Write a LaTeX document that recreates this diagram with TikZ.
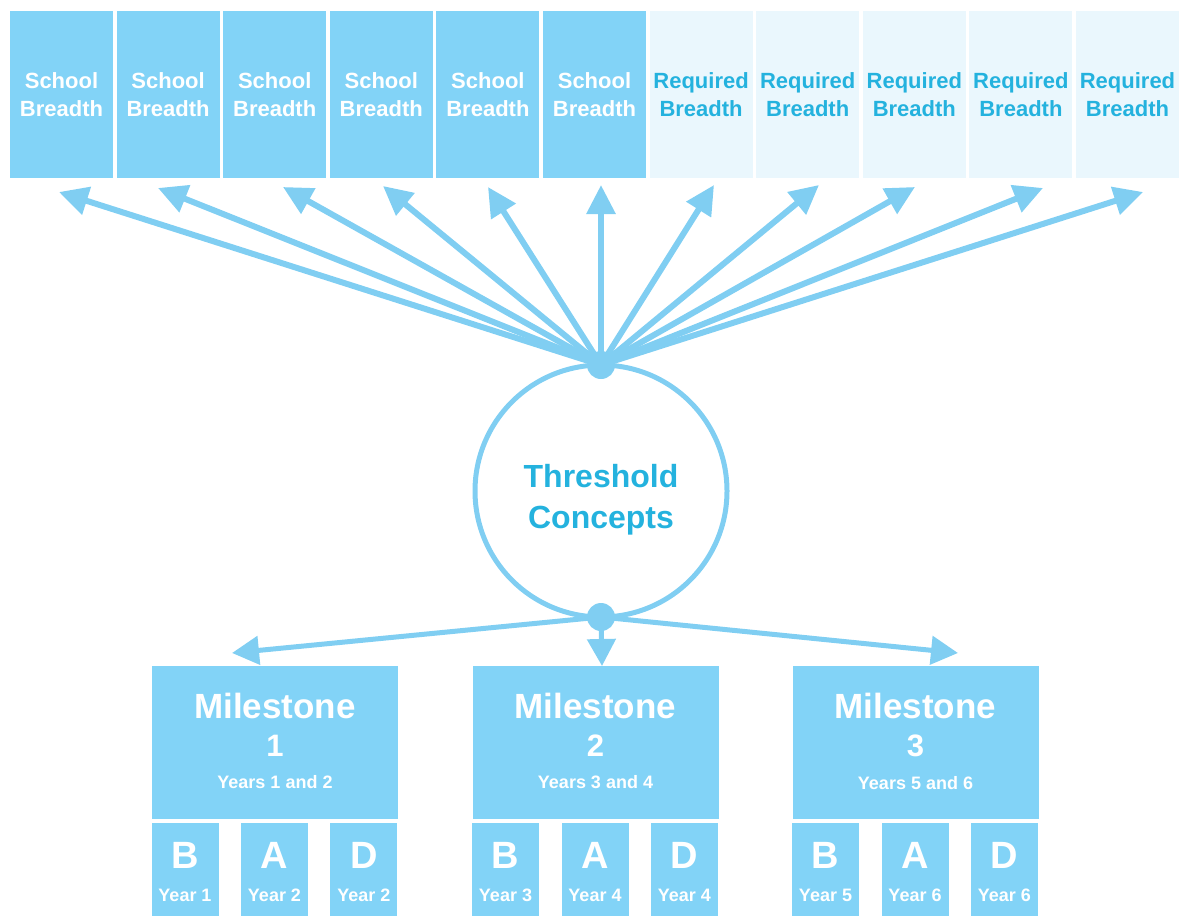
\documentclass[tikz,border=0pt]{standalone}
\usepackage{fontspec}
\setmainfont{Liberation Sans}
\usetikzlibrary{arrows.meta}

\definecolor{boxblue}{RGB}{130,211,247}
\definecolor{paleblue}{RGB}{234,247,253}
\definecolor{textcyan}{RGB}{36,178,222}
\definecolor{linkblue}{RGB}{128,206,242}

\begin{document}
\begin{tikzpicture}[x=1pt, y=-1pt,
	school/.style={fill=boxblue, minimum width=103pt, minimum height=167pt, inner sep=0pt, text=white, align=center, font=\bfseries\fontsize{22}{28}\selectfont},
	required/.style={school, fill=paleblue, text=textcyan},
	link/.style={draw=linkblue, line width=6pt, -{Triangle[length=29pt,width=28pt]}},
	hub/.style={circle, fill=linkblue, minimum size=28pt, inner sep=0pt},
	milestone/.style={fill=boxblue, minimum width=246pt, minimum height=153pt, inner sep=0pt},
	yearbox/.style={fill=boxblue, minimum width=67pt, minimum height=93pt, inner sep=0pt},
	bigtxt/.style={text=white, inner sep=0pt, font=\bfseries\fontsize{35}{40}\selectfont},
	numtxt/.style={text=white, inner sep=0pt, font=\bfseries\fontsize{31}{36}\selectfont},
	lettxt/.style={text=white, inner sep=0pt, font=\bfseries\fontsize{38}{42}\selectfont},
	smalltxt/.style={text=white, inner sep=0pt, font=\bfseries\fontsize{18}{22}\selectfont}]
	\useasboundingbox (0,0) rectangle (1180,916);
	
	% top row
	\node[school] (s1) at (61.5,94.5) {School\\Breadth};
	\node[school] (s2) at (168.1,94.5) {School\\Breadth};
	\node[school] (s3) at (274.7,94.5) {School\\Breadth};
	\node[school] (s4) at (381.3,94.5) {School\\Breadth};
	\node[school] (s5) at (487.9,94.5) {School\\Breadth};
	\node[school] (s6) at (594.5,94.5) {School\\Breadth};
	\node[required] (r1) at (701.1,94.5) {Required\\Breadth};
	\node[required] (r2) at (807.7,94.5) {Required\\Breadth};
	\node[required] (r3) at (914.3,94.5) {Required\\Breadth};
	\node[required] (r4) at (1020.9,94.5) {Required\\Breadth};
	\node[required] (r5) at (1127.5,94.5) {Required\\Breadth};
	
	% threshold circle
	\node[circle, draw=linkblue, line width=5pt, minimum size=252pt] (tc) at (601,491) {};
	\node[text=textcyan, align=center, font=\bfseries\fontsize{32}{41}\selectfont] (tct) at (601,500) {Threshold\\Concepts};
	\node[hub] (top) at (601,365) {};
	\node[hub] (bot) at (601,617) {};
	
	% arrow ends
	\coordinate (t1) at (59,192);
	\coordinate (t2) at (158,188);
	\coordinate (t3) at (283,187);
	\coordinate (t4) at (383,186);
	\coordinate (t5) at (488,187);
	\coordinate (t6) at (601,185);
	\coordinate (t7) at (714,185);
	\coordinate (t8) at (819,185);
	\coordinate (t9) at (915,187);
	\coordinate (t10) at (1043,188);
	\coordinate (t11) at (1143,192);
	
	\draw[link] (top.center) -- (t1);
	\draw[link] (top.center) -- (t2);
	\draw[link] (top.center) -- (t3);
	\draw[link] (top.center) -- (t4);
	\draw[link] (top.center) -- (t5);
	\draw[link] (top.center) -- (t6);
	\draw[link] (top.center) -- (t7);
	\draw[link] (top.center) -- (t8);
	\draw[link] (top.center) -- (t9);
	\draw[link] (top.center) -- (t10);
	\draw[link] (top.center) -- (t11);
	
	% milestones
	\node[milestone] (m1) at (275,742.5) {};
	\node[milestone] (m2) at (595.5,742.5) {};
	\node[milestone] (m3) at (915.5,742.5) {};
	\node[bigtxt] (m1a) at (275,706) {Milestone};
	\node[bigtxt] (m2a) at (595.5,706) {Milestone};
	\node[bigtxt] (m3a) at (915.5,706) {Milestone};
	\node[numtxt] (m1b) at (275,746) {1};
	\node[numtxt] (m2b) at (595.5,746) {2};
	\node[numtxt] (m3b) at (915.5,746) {3};
	\node[smalltxt] (m1c) at (275,782) {Years 1 and 2};
	\node[smalltxt] (m2c) at (595.5,782) {Years 3 and 4};
	\node[smalltxt] (m3c) at (915.5,783) {Years 5 and 6};
	
	\coordinate (ml) at (232,653);
	\coordinate (mc) at (602,666);
	\coordinate (mr) at (958,653);
	\draw[link, line width=5pt, -{Triangle[length=27pt,width=28pt]}] (bot.center) -- (ml);
	\draw[link, line width=5pt, -{Triangle[length=27pt,width=28pt]}] (bot.center) -- (mc);
	\draw[link, line width=5pt, -{Triangle[length=27pt,width=28pt]}] (bot.center) -- (mr);
	
	% year boxes
	\node[yearbox] (b1) at (185,869.5) {};
	\node[yearbox] (a1) at (274.5,869.5) {};
	\node[yearbox] (d1) at (363.8,869.5) {};
	\node[yearbox] (b2) at (505.5,869.5) {};
	\node[yearbox] (a2) at (595,869.5) {};
	\node[yearbox] (d2) at (684.3,869.5) {};
	\node[yearbox] (b3) at (825.5,869.5) {};
	\node[yearbox] (a3) at (915,869.5) {};
	\node[yearbox] (d3) at (1004.3,869.5) {};
	
	\node[lettxt] (b1l) at (185,855) {B};
	\node[lettxt] (a1l) at (274.5,855) {A};
	\node[lettxt] (d1l) at (363.8,855) {D};
	\node[lettxt] (b2l) at (505.5,855) {B};
	\node[lettxt] (a2l) at (595,855) {A};
	\node[lettxt] (d2l) at (684.3,855) {D};
	\node[lettxt] (b3l) at (825.5,855) {B};
	\node[lettxt] (a3l) at (915,855) {A};
	\node[lettxt] (d3l) at (1004.3,855) {D};
	
	\node[smalltxt] (b1y) at (185,895) {Year 1};
	\node[smalltxt] (a1y) at (274.5,895) {Year 2};
	\node[smalltxt] (d1y) at (363.8,895) {Year 2};
	\node[smalltxt] (b2y) at (505.5,895) {Year 3};
	\node[smalltxt] (a2y) at (595,895) {Year 4};
	\node[smalltxt] (d2y) at (684.3,895) {Year 4};
	\node[smalltxt] (b3y) at (825.5,895) {Year 5};
	\node[smalltxt] (a3y) at (915,895) {Year 6};
	\node[smalltxt] (d3y) at (1004.3,895) {Year 6};
	
\end{tikzpicture}
\end{document}
